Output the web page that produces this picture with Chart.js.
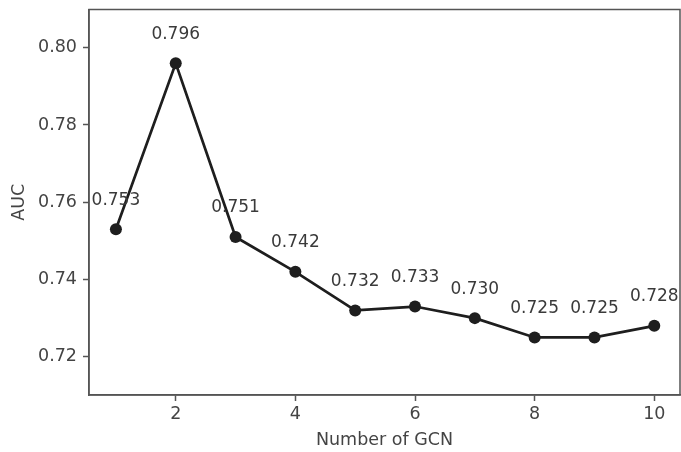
<!DOCTYPE html>
<html>
<head>
<meta charset="utf-8">
<script src="https://cdn.jsdelivr.net/npm/chart.js@4.4.0/dist/chart.umd.min.js"></script>
<style>
  html, body { margin: 0; padding: 0; background: #fff; }
  #wrap { width: 681px; height: 452px; }
</style>
</head>
<body>
<div id="wrap"><canvas id="graphique-auc"></canvas></div>
<script>
// valeurs
const nombreGCN = [1, 2, 3, 4, 5, 6, 7, 8, 9, 10];
const valeursAUC = [0.753, 0.796, 0.751, 0.742, 0.732, 0.733, 0.730, 0.725, 0.725, 0.728];
const graduationsX = [2, 4, 6, 8, 10];
const graduationsY = [0.72, 0.74, 0.76, 0.78, 0.80];

const police = "'DejaVu Sans', sans-serif";

// cadre complet autour de la zone de tracé + étiquettes des points
const cadreEtEtiquettes = {
    id: 'cadreEtEtiquettes',
    afterDatasetsDraw(chart) {
        const ctx = chart.ctx;
        const a = chart.chartArea;
        ctx.save();
        ctx.strokeStyle = '#555';
        ctx.lineWidth = 1.5;
        ctx.strokeRect(a.left, a.top, a.right - a.left, a.bottom - a.top);

        const x = chart.scales.x, y = chart.scales.y;
        ctx.fillStyle = '#3a3a3a';
        ctx.font = '17px ' + police;
        ctx.textAlign = 'center';
        ctx.textBaseline = 'middle';
        nombreGCN.forEach((n, i) => {
            ctx.fillText(valeursAUC[i].toFixed(3), x.getPixelForValue(n), y.getPixelForValue(valeursAUC[i]) - 29);
        });
        ctx.restore();
    }
};

new Chart(document.getElementById('graphique-auc'), {
    type: 'line',
    data: {
        datasets: [{
            data: nombreGCN.map((n, i) => ({ x: n, y: valeursAUC[i] })),
            borderColor: '#1e1e1e',
            backgroundColor: '#1e1e1e',
            borderWidth: 2.7,
            pointRadius: 6,
            pointBackgroundColor: '#1e1e1e',
            pointBorderWidth: 0,
            tension: 0
        }]
    },
    options: {
        responsive: true,
        maintainAspectRatio: false,
        animation: false,
        layout: { autoPadding: false, padding: { top: 9.5, right: 1, left: 0, bottom: 0 } },
        plugins: { legend: { display: false }, tooltip: { enabled: false } },
        scales: {
            x: {
                type: 'linear',
                min: 0.55,
                max: 10.43,
                afterBuildTicks: s => { s.ticks = graduationsX.map(v => ({ value: v })); },
                afterFit: s => { s.height = 57; s.paddingLeft = 0; s.paddingRight = 0; },
                grid: { drawOnChartArea: false, tickLength: 6, tickColor: '#555', tickWidth: 1.5 },
                border: { color: '#555', width: 1.5 },
                ticks: { color: '#444', font: { family: police, size: 17.5 }, padding: 3, maxRotation: 0 },
                title: { display: true, text: 'Number of GCN', color: '#444', font: { family: police, size: 17.5 }, padding: { top: 0, bottom: 1 } }
            },
            y: {
                min: 0.7101,
                max: 0.8099,
                afterBuildTicks: s => { s.ticks = graduationsY.map(v => ({ value: v })); },
                afterFit: s => { s.width = 89; s.paddingTop = 0; s.paddingBottom = 0; },
                grid: { drawOnChartArea: false, tickLength: 6, tickColor: '#555', tickWidth: 1.5 },
                border: { color: '#555', width: 1.5 },
                ticks: { color: '#444', font: { family: police, size: 17.5 }, padding: 6, callback: v => v.toFixed(2) },
                title: { display: true, text: 'AUC', color: '#444', font: { family: police, size: 17.5 }, padding: { top: 9, bottom: 0 } }
            }
        }
    },
    plugins: [cadreEtEtiquettes]
});
</script>
</body>
</html>
